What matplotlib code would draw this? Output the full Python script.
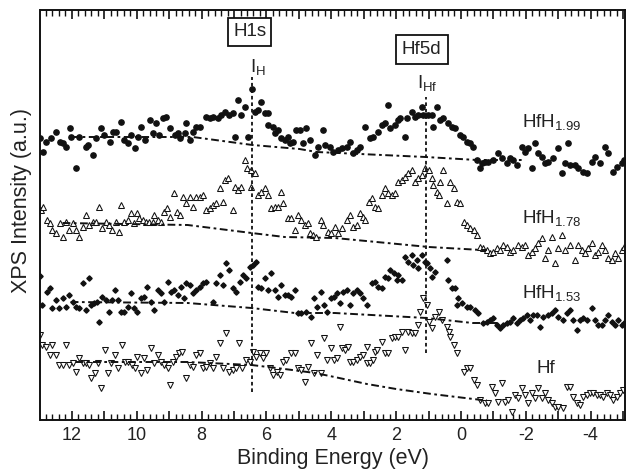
import matplotlib
matplotlib.use("Agg")
import matplotlib.pyplot as plt
from matplotlib.ticker import MultipleLocator, FuncFormatter

plt.rcParams['font.family'] = ['Liberation Sans', 'DejaVu Sans']
plt.rcParams['mathtext.fontset'] = 'custom'
plt.rcParams['mathtext.rm'] = 'Liberation Sans'
plt.rcParams['mathtext.it'] = 'Liberation Sans'

# ---------------- data (binding energy in eV, intensity in a.u.) ----------------
hfh199_e = [13.00, 12.90, 12.79, 12.64, 12.49, 12.38, 12.28, 12.18, 12.07, 12.02, 11.87, 11.77, 11.56, 11.51,
            11.36, 11.25, 11.10, 11.00, 10.84, 10.74, 10.63, 10.48, 10.38, 10.27, 10.17, 10.07, 9.97, 9.86,
            9.76, 9.60, 9.50, 9.40, 9.30, 9.19, 9.09, 8.99, 8.83, 8.73, 8.68, 8.52, 8.47, 8.37, 8.27, 8.16,
            8.06, 7.86, 7.75, 7.65, 7.50, 7.39, 7.29, 7.14, 7.03, 6.98, 6.88, 6.77, 6.67, 6.57, 6.44, 6.36,
            6.26, 6.16, 6.06, 5.95, 5.95, 5.80, 5.75, 5.64, 5.54, 5.44, 5.34, 5.28, 5.18, 5.08, 4.98, 4.87,
            4.77, 4.67, 4.51, 4.41, 4.27, 4.20, 4.05, 3.96, 3.80, 3.68, 3.53, 3.43, 3.34, 3.22, 3.12, 2.97,
            2.82, 2.72, 2.57, 2.44, 2.35, 2.26, 2.20, 2.04, 1.95, 1.89, 1.73, 1.67, 1.52, 1.43, 1.33, 1.21,
            1.18, 1.02, 0.90, 0.87, 0.75, 0.65, 0.56, 0.41, 0.28, 0.19, 0.03, -0.06, -0.18, -0.27, -0.36,
            -0.49, -0.58, -0.64, -0.73, -0.83, -0.98, -1.14, -1.26, -1.41, -1.51, -1.60, -1.72, -1.88, -1.97,
            -2.06, -2.19, -2.28, -2.37, -2.49, -2.59, -2.68, -2.83, -2.99, -3.11, -3.20, -3.30, -3.36, -3.51,
            -3.61, -3.76, -3.88, -4.04, -4.13, -4.28, -4.44, -4.53, -4.69, -4.81, -4.96, -5.04]
hfh199_i = [283, 269, 279, 283, 289, 279, 278, 274, 293, 284, 253, 284, 274, 276,
            266, 283, 293, 286, 279, 289, 289, 299, 281, 278, 286, 273, 284, 294,
            281, 301, 288, 298, 286, 303, 304, 293, 286, 288, 283, 288, 298, 281, 289, 294,
            294, 304, 303, 304, 303, 306, 309, 306, 308, 284, 321, 306, 314, 284, 332, 309,
            311, 319, 308, 308, 296, 294, 288, 291, 283, 281, 284, 278, 279, 291, 291, 278,
            293, 281, 266, 274, 291, 276, 274, 269, 271, 273, 274, 279, 268, 271, 274, 294,
            283, 284, 289, 296, 298, 316, 293, 296, 301, 303, 284, 303, 309, 304, 306, 314,
            306, 306, 306, 294, 314, 301, 303, 298, 294, 293, 286, 284, 279, 278, 274,
            261, 253, 258, 259, 259, 261, 268, 263, 258, 263, 261, 256, 274, 269,
            273, 253, 278, 268, 264, 258, 259, 263, 273, 248, 258, 278, 256, 256,
            253, 249, 248, 259, 264, 258, 274, 268, 249, 254, 258, 261]

hfh178_e = [12.96, 12.88, 12.78, 12.67, 12.60, 12.50, 12.36, 12.29, 12.19, 12.08, 11.98, 11.88, 11.78, 11.67,
            11.57, 11.47, 11.36, 11.26, 11.16, 11.06, 10.95, 10.85, 10.75, 10.64, 10.54, 10.49, 10.39, 10.28,
            10.18, 10.08, 9.98, 9.92, 9.82, 9.72, 9.61, 9.51, 9.46, 9.36, 9.26, 9.17, 9.07, 8.97, 8.86, 8.76,
            8.66, 8.56, 8.48, 8.37, 8.27, 8.17, 8.06, 7.96, 7.85, 7.75, 7.65, 7.55, 7.44, 7.34, 7.29, 7.19,
            7.03, 6.98, 6.88, 6.78, 6.67, 6.59, 6.49, 6.47, 6.36, 6.26, 6.16, 6.06, 5.95, 5.85, 5.75, 5.65,
            5.54, 5.49, 5.34, 5.23, 5.13, 5.03, 4.92, 4.82, 4.72, 4.67, 4.56, 4.46, 4.31, 4.26, 4.10, 4.00,
            3.89, 3.78, 3.68, 3.53, 3.42, 3.32, 3.22, 3.11, 3.01, 2.96, 2.85, 2.75, 2.65, 2.55, 2.44, 2.34,
            2.24, 2.14, 2.03, 1.93, 1.83, 1.72, 1.62, 1.52, 1.42, 1.31, 1.21, 1.11, 1.00, 0.90, 0.85, 0.75,
            0.69, 0.64, 0.54, 0.44, 0.34, 0.23, 0.13, 0.03, -0.08, -0.18, -0.28, -0.39, -0.49, -0.59, -0.67,
            -0.80, -0.89, -0.98, -1.10, -1.20, -1.29, -1.41, -1.51, -1.60, -1.75, -1.88, -1.97, -2.06, -2.19,
            -2.28, -2.37, -2.49, -2.59, -2.68, -2.80, -2.89, -2.99, -3.11, -3.20, -3.36, -3.51, -3.61, -3.73,
            -3.82, -3.91, -4.04, -4.13, -4.22, -4.35, -4.44, -4.53, -4.65, -4.75, -4.84, -4.96, -5.04]
hfh178_i = [211, 214, 201, 198, 191, 188, 198, 184, 199, 191, 198, 191, 184, 194,
            206, 196, 199, 199, 214, 193, 199, 196, 191, 199, 189, 216, 199, 201,
            208, 198, 208, 203, 201, 199, 199, 199, 206, 201, 199, 209, 213, 204, 228, 209,
            206, 224, 218, 224, 214, 224, 224, 226, 211, 213, 216, 218, 233, 219, 241, 243,
            211, 234, 231, 234, 261, 253, 251, 234, 248, 226, 229, 233, 226, 213, 214, 214,
            229, 218, 203, 203, 191, 206, 201, 196, 198, 188, 186, 184, 201, 196, 189, 188,
            194, 188, 193, 201, 206, 194, 196, 208, 204, 201, 219, 223, 214, 213, 226, 233,
            228, 226, 228, 239, 241, 244, 248, 251, 239, 243, 246, 253, 251, 243, 236, 229,
            226, 239, 251, 218, 239, 233, 219, 218, 199, 196, 193, 191, 186, 174, 173,
            171, 168, 169, 173, 171, 176, 174, 169, 171, 176, 174, 176, 166, 169,
            173, 178, 183, 163, 171, 184, 158, 173, 186, 171, 176, 161, 176, 171,
            168, 173, 178, 166, 169, 176, 171, 163, 161, 168, 163, 171, 174]

hfh153_e = [12.98, 12.91, 12.78, 12.67, 12.60, 12.50, 12.39, 12.29, 12.19, 12.08, 11.98, 11.88, 11.78, 11.67,
            11.57, 11.47, 11.42, 11.31, 11.23, 11.16, 11.06, 10.95, 10.85, 10.75, 10.68, 10.59, 10.49, 10.39,
            10.28, 10.18, 10.08, 9.98, 9.87, 9.77, 9.67, 9.56, 9.46, 9.36, 9.26, 9.15, 9.05, 8.95, 8.84, 8.74,
            8.64, 8.53, 8.48, 8.37, 8.27, 8.16, 8.06, 7.96, 7.86, 7.65, 7.55, 7.44, 7.34, 7.24, 7.14, 7.03,
            6.93, 6.83, 6.73, 6.62, 6.52, 6.42, 6.31, 6.26, 6.16, 6.06, 5.95, 5.85, 5.75, 5.64, 5.54, 5.44,
            5.34, 5.23, 5.13, 5.03, 4.92, 4.77, 4.64, 4.53, 4.43, 4.33, 4.23, 4.12, 4.02, 3.93, 3.83, 3.73,
            3.63, 3.52, 3.42, 3.32, 3.22, 3.11, 3.01, 2.91, 2.75, 2.65, 2.55, 2.44, 2.34, 2.24, 2.19, 2.08,
            1.98, 1.93, 1.83, 1.73, 1.62, 1.52, 1.47, 1.36, 1.31, 1.21, 1.11, 1.06, 0.95, 0.90, 0.80, 0.44,
            0.39, 0.28, 0.18, 0.13, 0.08, -0.03, -0.18, -0.28, -0.44, -0.54, -0.67, -0.80, -0.89, -0.98,
            -1.10, -1.20, -1.29, -1.41, -1.51, -1.60, -1.72, -1.81, -1.91, -2.03, -2.12, -2.22, -2.34, -2.43,
            -2.52, -2.68, -2.80, -2.89, -2.99, -3.14, -3.26, -3.36, -3.45, -3.57, -3.67, -3.76, -3.88, -4.04,
            -4.13, -4.22, -4.35, -4.44, -4.53, -4.65, -4.75, -4.84, -4.96, -5.04]
hfh153_i = [145, 116, 129, 133, 113, 121, 113, 123, 114, 126, 119, 114, 113, 138,
            111, 143, 116, 118, 119, 99, 124, 121, 109, 121, 131, 121, 109, 109,
            114, 128, 113, 109, 123, 124, 134, 119, 111, 131, 128, 119, 139, 129, 131, 126,
            134, 123, 138, 136, 128, 131, 134, 138, 139, 119, 138, 146, 136, 158, 151, 133,
            129, 139, 146, 143, 154, 156, 159, 134, 133, 143, 131, 148, 131, 124, 136, 126,
            126, 124, 131, 108, 108, 109, 104, 123, 114, 129, 116, 109, 123, 124, 128, 118,
            129, 131, 116, 128, 131, 128, 123, 116, 138, 139, 134, 133, 144, 143, 151, 148,
            141, 146, 141, 164, 159, 166, 156, 161, 153, 166, 159, 158, 153, 144, 149, 161,
            141, 133, 133, 116, 123, 118, 114, 114, 111, 108, 98, 99, 101, 103,
            96, 93, 96, 98, 99, 103, 98, 101, 103, 106, 101, 106, 106, 94,
            104, 106, 108, 111, 104, 101, 108, 111, 101, 91, 101, 103, 101, 113,
            101, 96, 96, 101, 106, 99, 96, 101, 96, 98]

hf_e = [12.98, 12.91, 12.81, 12.67, 12.60, 12.50, 12.39, 12.29, 12.19, 12.08, 11.98, 11.88, 11.78, 11.67,
        11.57, 11.47, 11.40, 11.29, 11.19, 11.09, 10.98, 10.88, 10.78, 10.68, 10.57, 10.47, 10.37, 10.26,
        10.16, 10.06, 9.98, 9.87, 9.77, 9.67, 9.56, 9.46, 9.36, 9.26, 9.15, 9.05, 8.97, 8.89, 8.79, 8.69,
        8.59, 8.48, 8.37, 8.27, 8.16, 8.06, 7.96, 7.86, 7.75, 7.65, 7.55, 7.44, 7.34, 7.24, 7.14, 7.03,
        6.93, 6.86, 6.76, 6.62, 6.52, 6.42, 6.31, 6.21, 6.11, 6.00, 5.90, 5.80, 5.69, 5.59, 5.49, 5.39,
        5.23, 5.13, 5.03, 4.92, 4.82, 4.72, 4.63, 4.53, 4.43, 4.33, 4.23, 4.12, 4.02, 3.93, 3.83, 3.73,
        3.68, 3.58, 3.47, 3.42, 3.32, 3.22, 3.11, 3.01, 2.91, 2.91, 2.81, 2.70, 2.65, 2.60, 2.44, 2.34,
        2.24, 2.14, 2.03, 1.93, 1.83, 1.72, 1.62, 1.52, 1.42, 1.31, 1.26, 1.16, 1.06, 1.00, 0.90, 0.80,
        0.69, 0.59, 0.44, 0.38, 0.33, 0.23, 0.13, -0.08, -0.18, -0.28, -0.39, -0.49, -0.59, -0.73, -0.83,
        -0.95, -1.04, -1.14, -1.26, -1.35, -1.44, -1.57, -1.66, -1.75, -1.88, -1.97, -2.06, -2.19, -2.28,
        -2.37, -2.49, -2.59, -2.68, -2.80, -2.89, -2.99, -3.14, -3.26, -3.36, -3.45, -3.57, -3.67, -3.76,
        -3.88, -3.97, -4.07, -4.19, -4.28, -4.38, -4.50, -4.59, -4.69, -4.81, -4.90, -4.99]
hf_i = [86, 76, 74, 66, 76, 66, 56, 56, 76, 56, 58, 49, 63, 58,
        58, 56, 43, 48, 58, 33, 71, 48, 58, 66, 53, 76, 59, 59,
        56, 53, 64, 48, 63, 51, 73, 58, 66, 59, 56, 53, 36, 59, 64, 68,
        69, 43, 56, 54, 66, 68, 53, 54, 58, 53, 64, 78, 53, 88, 49, 51,
        53, 78, 53, 61, 59, 69, 64, 68, 63, 68, 53, 46, 49, 46, 59, 61,
        68, 68, 53, 51, 39, 54, 78, 48, 66, 48, 83, 61, 73, 61, 63, 94,
        73, 71, 74, 59, 59, 61, 64, 66, 74, 58, 58, 61, 69, 71, 79, 68,
        68, 83, 84, 84, 89, 71, 89, 88, 88, 96, 109, 123, 116, 99, 93, 104,
        109, 101, 94, 89, 84, 76, 68, 49, 53, 53, 41, 36, 21, 18, 18,
        34, 28, 19, 38, 19, 21, 9, 26, 23, 33, 26, 18, 28, 23,
        33, 23, 28, 21, 18, 14, 14, 13, 34, 34, 24, 18, 16, 24,
        26, 28, 28, 26, 26, 24, 28, 26, 21, 24, 28, 31]

# background (dash-dot) curves
bg199_e = [12.02, 8.27, 6.43, 4.98, 4.45, 1.09, -0.49, -1.89]
bg199_i = [284, 284, 276, 272, 269, 264, 261, 261]
bg178_e = [12.29, 8.43, 6.46, 5.44, 3.89, 0.99, -0.64, -0.80]
bg178_i = [198, 196, 188, 184, 183, 174, 171, 171]
bg153_e = [12.04, 8.43, 6.46, 5.13, 3.89, 1.06, -0.36, -1.20]
bg153_i = [119, 118, 113, 108, 108, 103, 98, 98]
bghf_e = [11.89, 8.43, 6.46, 5.44, 4.50, 3.90, 2.90, 2.00, 0.90, -0.64, -0.80]
bghf_i = [59, 59, 56, 52, 48, 44, 37, 32, 27, 21, 21]

# peak markers
peak_h_e, peak_h_range = 6.44, (29, 344)
peak_hf_e, peak_hf_range = 1.09, (68, 324)

series_labels = [r"HfH$_{1.99}$", r"HfH$_{1.78}$", r"HfH$_{1.53}$", "Hf"]

# ---------------- figure ----------------
fig = plt.figure(figsize=(6.26, 4.73), dpi=100)
ax = fig.add_axes([40.5 / 626, 1 - 420 / 473, 584.5 / 626, 410 / 473])

ink = '#111111'
ax.plot(hfh199_e, hfh199_i, 'o', ms=3.8, color=ink, mec=ink, linestyle='none')
ax.plot(hfh178_e, hfh178_i, '^', ms=4.3, mfc='white', mec=ink, mew=0.75, linestyle='none')
ax.plot(hfh153_e, hfh153_i, 'D', ms=2.7, color=ink, mec=ink, linestyle='none')
ax.plot(hf_e, hf_i, 'v', ms=4.3, mfc='white', mec=ink, mew=0.75, linestyle='none')

for be, bi in [(bg199_e, bg199_i), (bg178_e, bg178_i), (bg153_e, bg153_i), (bghf_e, bghf_i)]:
    ax.plot(be, bi, color=ink, lw=1.4, dashes=(4, 1.8, 1.4, 1.8))

ax.plot([peak_h_e, peak_h_e], peak_h_range, color=ink, lw=1.3, dashes=(2, 1.6))
ax.plot([peak_hf_e, peak_hf_e], peak_hf_range, color=ink, lw=1.3, dashes=(2, 1.6))

tc = '#222222'
ax.text(6.52, 389, "H1s", ha='center', va='center', fontsize=13.5, color=tc,
        bbox=dict(boxstyle='square,pad=0.28', fc='white', ec=ink, lw=1.3))
ax.text(1.21, 371, "Hf5d", ha='center', va='center', fontsize=13.5, color=tc,
        bbox=dict(boxstyle='square,pad=0.32', fc='white', ec=ink, lw=1.3))
ax.text(6.50, 349, r"I$_{\mathrm{H}}$", ha='left', va='baseline', fontsize=13.5, color=tc)
ax.text(1.36, 333, r"I$_{\mathrm{Hf}}$", ha='left', va='baseline', fontsize=13.5, color=tc)

label_pos = [(-1.88, 294), (-1.88, 198), (-1.88, 123), (-2.34, 48)]
for lab, (lx, ly) in zip(series_labels, label_pos):
    ax.text(lx, ly, lab, ha='left', va='baseline', fontsize=13.5, color=tc)

ax.set_xlim(12.97, -5.06)
ax.set_ylim(1, 411)
ax.set_yticks([])
ax.xaxis.set_major_locator(MultipleLocator(1))
ax.xaxis.set_minor_locator(MultipleLocator(0.2))
ax.xaxis.set_major_formatter(FuncFormatter(lambda v, p: f"{int(round(v))}" if int(round(v)) % 2 == 0 else ""))
ax.tick_params(axis='x', which='both', direction='in', top=True, bottom=True, colors=ink, labelcolor=tc)
ax.tick_params(axis='x', which='major', length=6.5, width=1.2, labelsize=13, pad=5)
ax.tick_params(axis='x', which='minor', length=4, width=1.0)
for s in ax.spines.values():
    s.set_linewidth(1.4)
    s.set_color(ink)

ax.set_xlabel("Binding Energy (eV)", fontsize=15.5, color=tc, labelpad=3)
ax.set_ylabel("XPS Intensity (a.u.)", fontsize=15.5, color=tc)
ax.yaxis.set_label_coords(-8.5 / 584.5, 0.535)

fig.savefig("out.png", dpi=100)
